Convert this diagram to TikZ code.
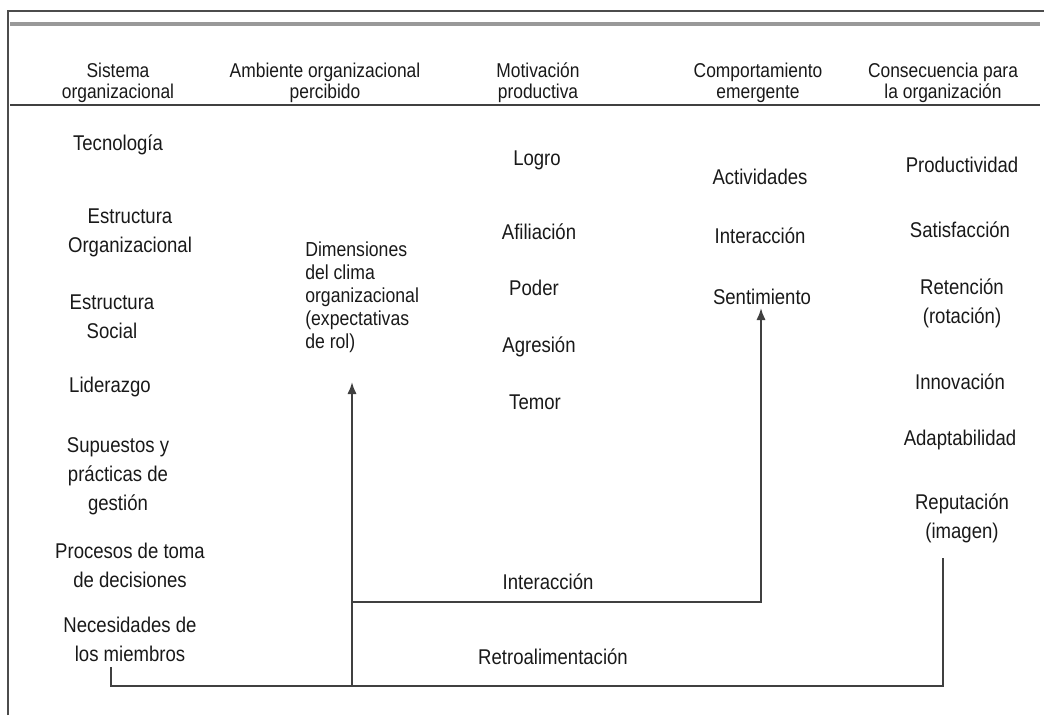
\documentclass[tikz,border=0pt]{standalone}
\usepackage{fontspec}
\setmainfont{Liberation Sans}
\newfontfamily\narrowfont[FakeStretch=0.87]{Liberation Sans}
\usetikzlibrary{arrows.meta}
\begin{document}
\begin{tikzpicture}[x=0.75pt,y=-0.75pt,
  hdr/.style={align=center,inner sep=0pt,text=black!90,font=\narrowfont\fontsize{15}{15.75}\selectfont},
  itm/.style={align=center,inner sep=0pt,text=black!90,font=\narrowfont\fontsize{16}{21.75}\selectfont},
  dim/.style={align=left,inner sep=0pt,anchor=west,text=black!90,font=\narrowfont\fontsize{15.2}{17.25}\selectfont},
  rule/.style={line width=1.8pt,black!75},
  conn/.style={line width=1.5pt,black!75},
  arr/.style={conn,-{Latex[length=9pt,width=7pt]}}]
\useasboundingbox (0,0) rectangle (1044,715);
% frame
\draw[line width=0.9pt,black!70] (8,715) -- (8,11) -- (1044,11);
\draw[line width=3pt,black!40] (10,24) -- (1040,24);
\draw[rule] (10,105) -- (1040,105);
% headers
\node[hdr] (h1) at (118,83) {Sistema\\organizacional};
\node[hdr] (h2) at (325,83) {Ambiente organizacional\\percibido};
\node[hdr] (h3) at (538,83) {Motivación\\productiva};
\node[hdr] (h4) at (758,83) {Comportamiento\\emergente};
\node[hdr] (h5) at (943,83) {Consecuencia para\\la organización};
% column 1
\node[itm] (tec) at (118,145) {Tecnología};
\node[itm] (eorg) at (130,233) {Estructura\\Organizacional};
\node[itm] (esoc) at (112,316.5) {Estructura\\Social};
\node[itm] (lid) at (110,387) {Liderazgo};
\node[itm] (sup) at (118,476) {Supuestos y\\prácticas de\\gestión};
\node[itm] (proc) at (130,565) {Procesos de toma\\de decisiones};
\node[itm] (nec) at (130,639) {Necesidades de\\los miembros};
% column 2
\node[dim] (dimc) at (305,297) {Dimensiones\\del clima\\organizacional\\(expectativas\\de rol)};
% column 3
\node[itm] (log) at (537,160) {Logro};
\node[itm] (afi) at (539,232) {Afiliación};
\node[itm] (pod) at (534,288) {Poder};
\node[itm] (agr) at (539,347) {Agresión};
\node[itm] (tem) at (535,402) {Temor};
\node[itm] (inter) at (548,582) {Interacción};
\node[itm] (retro) at (553,657) {Retroalimentación};
% column 4
\node[itm] (act) at (760,177) {Actividades};
\node[itm] (int2) at (760,236) {Interacción};
\node[itm] (sen) at (762,297) {Sentimiento};
% column 5
\node[itm] (prod) at (962,165) {Productividad};
\node[itm] (sat) at (960,230) {Satisfacción};
\node[itm] (ret) at (962,303.5) {Retención\\(rotación)};
\node[itm] (inn) at (960,382) {Innovación};
\node[itm] (ada) at (960,440) {Adaptabilidad};
\node[itm] (rep) at (962,518) {Reputación\\(imagen)};
% connector points
\coordinate (necb) at (111,667);
\coordinate (bl) at (111,686);
\coordinate (mid) at (352,686);
\coordinate (br) at (943,686);
\coordinate (repb) at (943,558);
\coordinate (dimtip) at (352,382);
\coordinate (ia) at (352,602);
\coordinate (ib) at (761,602);
\coordinate (sentip) at (761,308);
% connectors
\draw[conn] (necb) -- (bl) -- (br) -- (repb);
\draw[arr] (mid) -- (dimtip);
\draw[arr] (ia) -- (ib) -- (sentip);
\end{tikzpicture}
\end{document}
